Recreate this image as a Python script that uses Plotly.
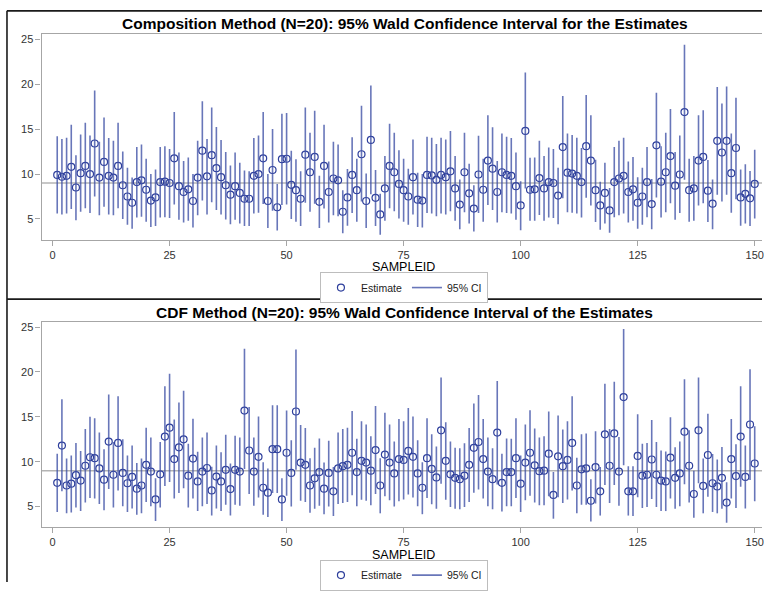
import plotly.graph_objects as go

sample_id = list(range(1, 151))

comp_est = [9.9,9.7,9.8,10.8,8.5,10.1,10.9,10.0,13.4,9.6,11.35,9.8,9.6,10.9,8.75,7.5,6.8,9.1,9.3,8.25,
            7.05,7.4,9.1,9.15,9.0,11.75,8.65,8.0,8.3,7.0,9.6,12.6,9.75,12.1,10.65,9.65,8.75,7.7,8.65,7.9,
            7.25,7.25,9.8,10.0,11.75,7.0,10.45,6.3,11.65,11.7,8.8,8.2,7.25,12.15,10.2,11.9,6.9,10.9,8.0,9.5,
            9.3,5.8,7.4,9.9,8.2,12.2,7.0,13.8,7.35,5.5,8.4,10.9,10.2,8.9,8.2,7.5,9.65,7.15,7.05,9.9,
            9.85,9.35,9.9,9.65,10.3,8.4,6.6,10.2,7.85,6.15,9.95,8.25,11.5,10.6,8.0,10.2,9.9,9.8,8.65,6.5,
            14.8,8.25,8.3,9.55,8.4,9.1,9.0,7.6,13.0,10.15,10.05,9.8,9.1,13.1,11.5,8.2,6.5,7.9,5.95,9.1,
            9.5,9.8,8.0,8.3,6.8,7.5,9.1,6.65,13.2,9.15,10.2,12.0,8.7,9.95,16.9,8.2,8.4,11.5,11.9,8.15,
            6.7,13.7,12.4,13.7,10.1,12.9,7.4,7.8,7.3,8.9]
comp_lo = [5.6,5.5,5.6,6.1,4.85,5.8,6.2,5.65,7.5,5.4,6.35,5.5,5.4,6.2,5.0,4.35,3.9,5.15,5.25,4.7,
           4.1,4.2,5.15,5.2,5.1,6.6,4.9,4.6,4.8,4.05,5.4,7.05,5.5,6.85,6.0,5.5,4.95,4.4,4.9,4.5,
           4.2,4.2,5.6,5.7,6.65,4.0,5.9,3.7,6.55,6.6,5.0,4.7,4.2,6.8,5.8,6.7,4.0,6.15,4.6,5.4,
           5.3,3.4,4.25,5.65,4.7,6.95,4.0,7.75,4.2,3.25,4.8,6.2,5.85,5.05,4.7,4.35,5.5,4.1,4.05,5.65,
           5.6,5.3,5.6,5.5,5.85,4.8,3.85,5.75,4.5,3.6,5.65,4.7,6.55,6.0,4.6,5.75,5.65,5.6,4.9,3.75,
           8.4,4.8,4.8,5.45,4.8,5.15,5.1,4.4,7.3,5.75,5.7,5.6,5.15,7.35,6.5,4.65,3.8,4.5,3.45,5.2,
           5.4,5.6,4.6,4.8,3.9,4.35,5.2,3.85,7.4,5.15,5.75,6.75,4.9,5.65,9.35,4.7,4.8,6.5,6.75,4.65,
           3.85,7.7,6.95,7.7,5.7,7.2,4.25,4.5,4.2,5.05]
comp_hi = [14.2,13.9,14.05,15.5,12.1,14.4,15.7,14.3,19.3,13.6,16.3,14.0,13.7,15.7,12.5,10.7,9.6,13.0,13.3,11.7,
           10.0,10.5,13.0,13.1,12.8,16.9,12.4,11.45,11.85,10.0,13.7,18.1,13.9,17.4,15.25,13.8,12.45,10.95,12.4,11.25,
           10.4,10.3,14.0,14.3,16.9,10.0,15.0,8.9,16.7,16.8,12.6,11.65,10.3,17.4,14.6,17.05,9.8,15.5,11.4,13.6,
           13.3,8.2,10.55,14.1,11.7,17.6,10.05,19.85,10.45,7.8,12.0,15.6,14.6,12.65,11.7,10.6,13.85,10.15,10.0,14.15,
           14.05,13.35,14.05,13.85,14.8,12.0,9.4,14.6,11.15,8.75,14.25,11.7,16.55,15.2,11.45,14.5,14.15,14.0,12.4,9.2,
           21.3,11.8,11.85,13.7,12.0,12.95,12.8,10.7,18.7,14.5,14.35,14.05,12.9,18.8,16.55,11.6,9.15,11.25,8.45,13.0,
           13.7,14.05,11.4,11.9,9.65,10.7,13.0,9.45,19.05,13.1,14.6,17.25,12.45,14.3,24.4,11.7,12.0,16.55,17.1,11.55,
           9.4,19.7,17.85,19.75,14.5,18.5,10.5,11.1,10.35,12.7]

cdf_est = [7.65,11.8,7.35,7.55,8.5,7.9,9.55,10.5,10.4,9.25,8.0,12.25,8.55,12.1,8.75,7.6,8.3,7.0,7.35,9.65,
           8.9,5.8,8.6,12.8,13.8,10.3,11.6,12.5,8.45,10.35,7.8,8.9,9.3,6.8,8.35,7.8,9.1,6.95,9.1,8.9,
           15.7,11.25,8.9,10.55,7.1,6.55,11.4,11.4,5.8,11.0,8.75,15.6,9.9,9.65,7.35,8.15,8.85,7.0,8.75,6.7,
           9.25,9.5,9.65,11.0,8.85,10.1,9.9,9.0,11.3,7.35,10.8,9.9,8.7,10.3,10.2,11.2,10.55,8.7,7.1,10.4,
           9.2,8.25,13.5,10.1,8.6,8.2,8.05,8.45,9.65,11.55,12.2,10.3,8.9,8.05,13.25,7.65,8.85,8.85,10.4,7.55,
           9.9,11.0,9.6,8.95,9.0,10.9,6.3,10.6,9.5,10.2,12.1,7.35,9.15,9.25,5.65,9.4,6.7,13.05,9.55,13.15,
           8.9,17.2,6.7,6.7,10.65,8.45,8.55,10.25,8.55,7.9,7.8,10.45,8.2,8.7,13.35,9.55,6.4,13.5,7.3,10.75,
           7.6,7.25,8.2,5.45,10.3,8.4,12.8,8.3,14.15,9.8]
cdf_lo = [4.4,6.7,4.25,4.35,4.9,4.5,5.45,5.95,5.9,5.3,4.6,6.95,4.9,6.8,5.05,4.4,4.8,4.1,4.25,5.5,
          5.05,3.4,4.9,7.3,7.75,5.9,6.5,7.05,4.9,5.9,4.5,5.05,5.3,4.0,4.8,4.5,5.2,4.0,5.2,5.1,
          9.2,6.4,5.1,6.0,4.1,3.85,6.5,6.5,3.4,6.2,5.0,9.1,5.65,5.5,4.3,4.75,5.1,4.15,5.0,3.95,
          5.3,5.4,5.5,6.25,5.05,5.75,5.65,5.15,6.4,4.25,6.15,5.7,5.0,5.6,5.8,6.35,6.0,5.05,4.15,5.95,
          5.25,4.75,7.55,5.75,4.95,4.75,4.7,4.95,5.5,6.55,6.9,5.9,5.05,4.7,7.45,4.45,5.05,5.05,5.95,4.4,
          5.7,6.2,5.45,5.15,5.15,6.15,3.65,6.05,5.4,5.8,6.8,4.25,5.2,5.2,3.35,5.35,4.0,7.4,5.4,7.4,
          5.1,9.6,4.0,3.95,6.05,4.85,4.95,5.85,4.95,4.5,4.5,5.9,4.75,5.05,7.5,5.45,3.75,7.6,4.25,6.1,
          4.4,4.25,4.75,3.2,5.9,4.85,7.2,4.8,7.95,5.6]
cdf_hi = [10.9,16.95,10.35,10.7,12.1,11.2,13.65,15.0,14.85,13.25,11.4,17.5,12.2,17.3,12.5,10.7,11.8,9.85,10.35,13.8,
          12.7,8.15,12.2,18.4,19.8,14.7,16.6,17.9,12.0,14.8,11.1,12.7,13.25,9.45,11.8,11.05,13.0,9.8,12.9,12.7,
          22.6,16.1,12.7,15.05,9.95,9.25,16.3,16.3,8.15,15.7,12.4,22.5,14.1,13.75,10.4,11.55,12.6,9.9,12.35,9.4,
          13.25,13.65,13.8,15.65,12.55,14.5,14.15,12.85,16.2,10.4,15.45,14.15,12.25,14.75,14.5,16.0,15.05,12.4,9.95,14.85,
          13.05,11.7,19.4,14.4,12.25,11.55,11.5,12.05,13.75,16.5,17.45,14.75,12.7,11.5,19.0,10.9,12.6,12.55,14.85,10.7,
          14.15,15.75,13.7,12.7,12.85,15.6,8.85,15.15,13.6,14.5,17.3,10.45,13.05,13.15,8.05,13.4,9.4,18.7,13.65,18.9,
          12.75,24.8,9.5,9.5,15.3,12.0,12.1,14.65,12.2,11.25,11.15,14.95,11.6,12.25,19.2,13.5,9.0,19.4,10.35,15.35,
          10.85,10.25,11.65,7.7,14.75,11.95,18.4,11.8,20.3,13.95]

ref_value = 9
x_ticks = [0, 25, 50, 75, 100, 125, 150]
y_ticks = [5, 10, 15, 20, 25]

top_title = "Composition Method (N=20): 95% Wald Confidence Interval for the Estimates"
bot_title = "CDF Method (N=20): 95% Wald Confidence Interval of the Estimates"

W, H = 764, 591
FONT = "Liberation Sans, Arial, sans-serif"
LINE_COL = "rgba(62,80,165,0.78)"
MARK_COL = "#2E3F9C"
AX_COL = "#A6A6A6"

def px_x(p):
    return p / W

def px_y(p):
    return 1 - p / H

def seg(xs, lo, hi):
    X, Y = [], []
    for x, a, b in zip(xs, lo, hi):
        X += [x, x, None]
        Y += [a, b, None]
    return X, Y

fig = go.Figure()

panels = [
    dict(est=comp_est, lo=comp_lo, hi=comp_hi, xa="x", ya="y", leg="legend",
         top=33.3, bottom=242.7, yr=[2.70, 25.62], title=top_title, ty=23, sy=271, ly=291.5),
    dict(est=cdf_est, lo=cdf_lo, hi=cdf_hi, xa="x2", ya="y2", leg="legend2",
         top=327.0, bottom=535.0, yr=[2.73, 25.52], title=bot_title, ty=316.5, sy=564, ly=584),
]

for p in panels:
    X, Y = seg(sample_id, p["lo"], p["hi"])
    fig.add_trace(go.Scatter(
        x=sample_id, y=p["est"], mode="markers", name="Estimate",
        xaxis=p["xa"], yaxis=p["ya"], legend=p["leg"],
        marker=dict(symbol="circle-open", size=7, color=MARK_COL, line=dict(width=1.2, color=MARK_COL)),
        legendrank=1, hoverinfo="skip"))
    fig.add_trace(go.Scatter(
        x=X, y=Y, mode="lines", name="95% CI",
        xaxis=p["xa"], yaxis=p["ya"], legend=p["leg"],
        line=dict(color=LINE_COL, width=1.6), legendrank=2, hoverinfo="skip"))

axis_common = dict(showgrid=False, zeroline=False, showline=True, linecolor=AX_COL, linewidth=1.2,
                   ticks="outside", tickcolor=AX_COL, ticklen=5, tickwidth=1,
                   tickfont=dict(family=FONT, size=11, color="#333333"))

xr = [-2.34, 151.56]
fig.update_layout(width=W, height=H, margin=dict(l=0, r=0, t=0, b=0),
                  paper_bgcolor="white", plot_bgcolor="white",
                  font=dict(family=FONT, color="#222222"), hovermode=False)
fig.update_layout(
    xaxis=dict(domain=[px_x(41.7), 1.0], range=xr, tickvals=x_ticks, anchor="y", mirror=True,
               ticklabeloverflow="allow", **axis_common),
    yaxis=dict(domain=[px_y(242.7), px_y(33.3)], range=panels[0]["yr"], tickvals=y_ticks, anchor="x", **axis_common),
    xaxis2=dict(domain=[px_x(41.7), 1.0], range=xr, tickvals=x_ticks, anchor="y2", mirror=True,
                ticklabeloverflow="allow", **axis_common),
    yaxis2=dict(domain=[px_y(535.0), px_y(327.0)], range=panels[1]["yr"], tickvals=y_ticks, anchor="x2", **axis_common),
)

shapes = []
annotations = []
legends = {}
for p in panels:
    xa, ya = p["xa"], p["ya"]
    shapes.append(dict(type="line", xref=f"{xa} domain", yref=ya, x0=0, x1=1, y0=ref_value, y1=ref_value,
                       line=dict(color="#B4B4B4", width=1.5), layer="below"))
    annotations.append(dict(text=f"<b>{p['title']}</b>", xref="paper", yref="paper", x=px_x(406), y=px_y(p["ty"]),
                            showarrow=False, xanchor="center", yanchor="middle",
                            font=dict(family=FONT, size=15.5, color="#000000")))
    annotations.append(dict(text="SAMPLEID", xref="paper", yref="paper", x=px_x(405), y=px_y(p["sy"]),
                            showarrow=False, xanchor="center", yanchor="middle",
                            font=dict(family=FONT, size=12.5, color="#000000")))
    legends[p["leg"]] = dict(orientation="h", x=px_x(405), y=px_y(p["ly"]), xanchor="center", yanchor="middle",
                             bgcolor="white", bordercolor="#BDBDBD", borderwidth=1,
                             font=dict(family=FONT, size=10.5, color="#222222"),
                             itemwidth=30, tracegroupgap=0, traceorder="normal")

border = dict(color="#1A1A1A", width=1.6)
shapes.append(dict(type="line", xref="paper", yref="paper", x0=px_x(7), x1=px_x(7), y0=0, y1=px_y(10), line=border))
shapes.append(dict(type="line", xref="paper", yref="paper", x0=px_x(7), x1=1, y0=px_y(10), y1=px_y(10), line=border))
shapes.append(dict(type="line", xref="paper", yref="paper", x0=px_x(7), x1=1, y0=px_y(303.3), y1=px_y(303.3), line=border))

fig.update_layout(shapes=shapes, annotations=annotations, showlegend=True, **legends)

fig.write_html("out.html",
               config={"displayModeBar": False},
               post_script=("document.documentElement.style.margin='0';"
                            "document.documentElement.style.overflow='hidden';"
                            "document.body.style.margin='0';document.body.style.padding='0';"
                            "document.body.style.overflow='hidden';"))
